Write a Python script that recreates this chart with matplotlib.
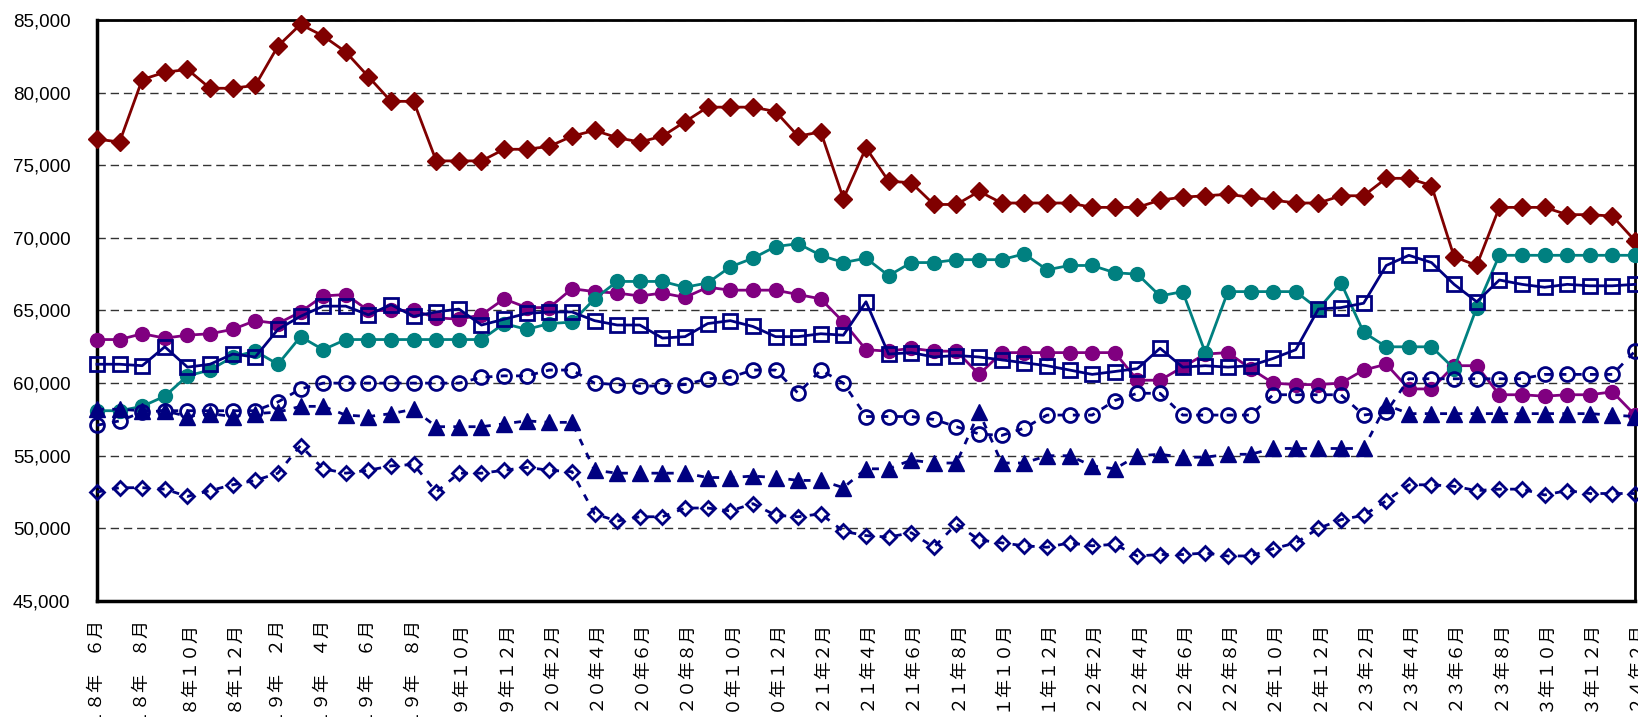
import matplotlib
matplotlib.use('Agg')
import matplotlib.pyplot as plt
import matplotlib.transforms as mtransforms
from matplotlib.ticker import FuncFormatter, MultipleLocator

# 月次データ（2018年6月～2024年2月）
months = list(range(69))

tick_labels = ['１８年　６月', '１８年　８月', '１８年１０月', '１８年１２月',
               '１９年　２月', '１９年　４月', '１９年　６月', '１９年　８月', '１９年１０月', '１９年１２月',
               '２０年２月', '２０年４月', '２０年６月', '２０年８月', '２０年１０月', '２０年１２月',
               '２１年２月', '２１年４月', '２１年６月', '２１年８月', '２１年１０月', '２１年１２月',
               '２２年２月', '２２年４月', '２２年６月', '２２年８月', '２２年１０月', '２２年１２月',
               '２３年２月', '２３年４月', '２３年６月', '２３年８月', '２３年１０月', '２３年１２月',
               '２４年２月']

red = [76800, 76600, 80900, 81400, 81600, 80300, 80300, 80500, 83200, 84700,
       83900, 82800, 81100, 79400, 79400, 75300, 75300, 75300, 76100, 76100,
       76300, 77000, 77400, 76900, 76600, 77000, 78000, 79000, 79000, 79000,
       78700, 77000, 77300, 72700, 76200, 73900, 73800, 72300, 72300, 73200,
       72400, 72400, 72400, 72400, 72100, 72100, 72100, 72600, 72800, 72900,
       73000, 72800, 72600, 72400, 72400, 72900, 72900, 74100, 74100, 73600,
       68700, 68100, 72100, 72100, 72100, 71600, 71600, 71500, 69800]

teal = [58100, 58100, 58400, 59100, 60500, 60900, 61800, 62200, 61300, 63200,
        62300, 63000, 63000, 63000, 63000, 63000, 63000, 63000, 64100, 63700,
        64100, 64200, 65800, 67000, 67000, 67000, 66600, 66900, 68000, 68600,
        69400, 69600, 68800, 68300, 68600, 67400, 68300, 68300, 68500, 68500,
        68500, 68900, 67800, 68100, 68100, 67600, 67500, 66000, 66300, 62100,
        66300, 66300, 66300, 66300, 65100, 66900, 63500, 62500, 62500, 62500,
        61000, 65200, 68800, 68800, 68800, 68800, 68800, 68800, 68800]

purple = [63000, 63000, 63400, 63100, 63300, 63400, 63700, 64300, 64100, 64900,
          66000, 66100, 65000, 65000, 65000, 64500, 64400, 64700, 65800, 65200,
          65200, 66500, 66300, 66200, 66000, 66200, 65900, 66600, 66400, 66400,
          66400, 66100, 65800, 64200, 62300, 62200, 62400, 62200, 62200, 60600,
          62100, 62100, 62100, 62100, 62100, 62100, 60200, 60200, 61100, 62000,
          62100, 61000, 60000, 59900, 59900, 60000, 60900, 61300, 59600, 59600,
          61200, 61200, 59200, 59200, 59100, 59200, 59200, 59400, 57800]

squares = [61300, 61300, 61200, 62500, 61100, 61300, 62000, 61800, 63700, 64600,
           65300, 65300, 64700, 65400, 64600, 64900, 65100, 64000, 64400, 64800,
           64900, 64900, 64300, 64000, 64000, 63100, 63200, 64100, 64300, 63900,
           63200, 63200, 63400, 63300, 65600, 62000, 62100, 61800, 61900, 61800,
           61600, 61400, 61200, 60900, 60600, 60800, 61000, 62400, 61100, 61200,
           61100, 61200, 61700, 62300, 65100, 65200, 65500, 68100, 68800, 68300,
           66800, 65600, 67100, 66800, 66600, 66800, 66700, 66700, 66800]

circles = [57100, 57400, 58000, 58100, 58100, 58100, 58100, 58100, 58700, 59600,
           60000, 60000, 60000, 60000, 60000, 60000, 60000, 60400, 60500, 60500,
           60900, 60900, 60000, 59900, 59800, 59800, 59900, 60300, 60400, 60900,
           60900, 59300, 60900, 60000, 57700, 57700, 57700, 57500, 57000, 56500,
           56400, 56900, 57800, 57800, 57800, 58800, 59300, 59300, 57800, 57800,
           57800, 57800, 59200, 59200, 59200, 59200, 57800, 58000, 60300, 60300,
           60300, 60300, 60300, 60300, 60600, 60600, 60600, 60600, 62200]

triangles = [58200, 58200, 58100, 58100, 57700, 57900, 57700, 57900, 58000, 58400,
             58400, 57800, 57700, 57900, 58200, 57000, 57000, 57000, 57200, 57400,
             57300, 57300, 54000, 53800, 53800, 53800, 53800, 53500, 53500, 53600,
             53500, 53300, 53300, 52800, 54100, 54100, 54700, 54500, 54500, 58000,
             54500, 54500, 55000, 55000, 54300, 54100, 55000, 55100, 54900, 54900,
             55100, 55100, 55500, 55500, 55500, 55500, 55500, 58500, 57900, 57900,
             57900, 57900, 57900, 57900, 57900, 57900, 57900, 57800, 57700]

diamonds = [52500, 52800, 52800, 52700, 52200, 52600, 53000, 53300, 53800, 55700,
            54100, 53800, 54000, 54300, 54400, 52500, 53800, 53800, 54000, 54200,
            54000, 53900, 51000, 50500, 50800, 50800, 51400, 51400, 51200, 51700,
            50900, 50800, 51000, 49800, 49500, 49400, 49700, 48700, 50300, 49200,
            49000, 48800, 48700, 49000, 48800, 48900, 48100, 48200, 48200, 48300,
            48100, 48100, 48600, 49000, 50000, 50600, 50900, 51900, 53000, 53000,
            52900, 52600, 52700, 52700, 52300, 52600, 52400, 52400, 52400]

navy = '#000080'

fig = plt.figure(figsize=(16.38, 7.17), dpi=100)
ax = fig.add_axes([0.0592, 0.1618, 0.939, 0.8103])

# 実線系列
ax.plot(months, red, color='#800000', marker='D', markersize=9.5, lw=2, clip_on=False, zorder=5)
ax.plot(months, purple, color='#800080', marker='o', markersize=10, lw=2, clip_on=False, zorder=5)
ax.plot(months, teal, color='#008080', marker='o', markersize=10, lw=2, clip_on=False, zorder=6)
ax.plot(months, squares, color=navy, marker='s', markersize=10, markerfacecolor='none',
        markeredgewidth=2, lw=2, clip_on=False, zorder=7)

# 破線系列
ax.plot(months, circles, color=navy, marker='o', markersize=10, markerfacecolor='none',
        markeredgewidth=2, lw=2, dashes=(2.5, 3), clip_on=False, zorder=7)
ax.plot(months, triangles, color=navy, marker='^', markersize=11, lw=2, dashes=(2.5, 3),
        clip_on=False, zorder=7)
ax.plot(months, diamonds, color=navy, marker='D', markersize=7.5, markerfacecolor='none',
        markeredgewidth=2, lw=2, dashes=(2.5, 3), clip_on=False, zorder=7)

ax.set_xlim(0, 68)
ax.set_ylim(45000, 85000)
ax.yaxis.set_major_locator(MultipleLocator(5000))
ax.yaxis.set_major_formatter(FuncFormatter(lambda v, p: '{:,.0f}'.format(v)))
ax.set_xticks(months[::2])
ax.set_xticklabels(tick_labels, rotation=90, va='top', ha='center',
                   family=['Noto Sans CJK JP', 'DejaVu Sans'], fontsize=13)
ax.xaxis.set_minor_locator(MultipleLocator(4))

# ラベルを少し左へずらす
shift = mtransforms.ScaledTranslation(-5 / 100, 0, fig.dpi_scale_trans)
for lab in ax.get_xticklabels():
    lab.set_transform(lab.get_transform() + shift)

for lab in ax.get_yticklabels():
    lab.set_family('Liberation Sans')
    lab.set_fontsize(13.5)

ax.tick_params(axis='both', which='both', length=0)
ax.tick_params(axis='y', pad=19)
ax.tick_params(axis='x', pad=14)

ax.grid(axis='y', which='major', color='#333333', lw=1, dashes=(6, 3.5))
ax.grid(axis='x', which='minor', color='#333333', lw=1, dashes=(6, 3.5))
ax.set_axisbelow(True)

for side in ['top', 'right']:
    ax.spines[side].set_linewidth(2)
for side in ['left', 'bottom']:
    ax.spines[side].set_linewidth(2.5)
for s in ax.spines.values():
    s.set_zorder(4)

fig.savefig('out.png', dpi=100)
